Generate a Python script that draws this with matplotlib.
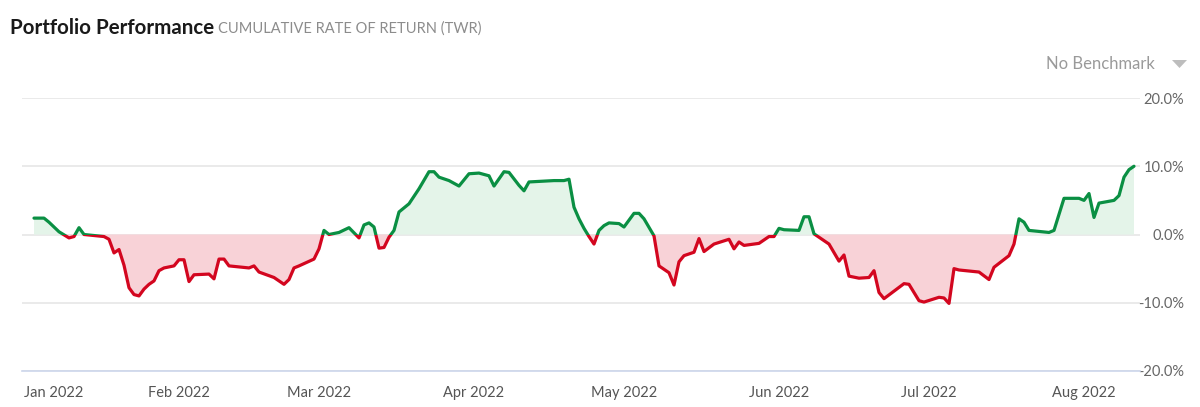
import pandas as pd
import numpy as np
import matplotlib
matplotlib.use("Agg")
import matplotlib.pyplot as plt
import matplotlib.dates as mdates
from matplotlib.patches import Rectangle, Polygon

# Cumulative rate of return (%)
dates = [
    "2022-01-03", "2022-01-05", "2022-01-06", "2022-01-08", "2022-01-10", "2022-01-11",
    "2022-01-12", "2022-01-13", "2022-01-17", "2022-01-18", "2022-01-19", "2022-01-20",
    "2022-01-21", "2022-01-22", "2022-01-23", "2022-01-24", "2022-01-25", "2022-01-26",
    "2022-01-27", "2022-01-28", "2022-01-29", "2022-01-31", "2022-02-01", "2022-02-02",
    "2022-02-03", "2022-02-04", "2022-02-07", "2022-02-08", "2022-02-09", "2022-02-10",
    "2022-02-11", "2022-02-15", "2022-02-16", "2022-02-17", "2022-02-20", "2022-02-22",
    "2022-02-23", "2022-02-24", "2022-02-25", "2022-02-28", "2022-03-01", "2022-03-02",
    "2022-03-03", "2022-03-05", "2022-03-07", "2022-03-09", "2022-03-10", "2022-03-11",
    "2022-03-12", "2022-03-13", "2022-03-14", "2022-03-15", "2022-03-16", "2022-03-17",
    "2022-03-19", "2022-03-21", "2022-03-23", "2022-03-24", "2022-03-25", "2022-03-27",
    "2022-03-29", "2022-03-31", "2022-04-02", "2022-04-04", "2022-04-05", "2022-04-07",
    "2022-04-08", "2022-04-10", "2022-04-11", "2022-04-12", "2022-04-17", "2022-04-19",
    "2022-04-20", "2022-04-21", "2022-04-22", "2022-04-23", "2022-04-24", "2022-04-25",
    "2022-04-26", "2022-04-27", "2022-04-28", "2022-04-30", "2022-05-01", "2022-05-03",
    "2022-05-04", "2022-05-05", "2022-05-07", "2022-05-08", "2022-05-10", "2022-05-11",
    "2022-05-12", "2022-05-13", "2022-05-15", "2022-05-16", "2022-05-17", "2022-05-19",
    "2022-05-22", "2022-05-23", "2022-05-24", "2022-05-25", "2022-05-28", "2022-05-30",
    "2022-05-31", "2022-06-01", "2022-06-02", "2022-06-05", "2022-06-06", "2022-06-07",
    "2022-06-08", "2022-06-11", "2022-06-13", "2022-06-14", "2022-06-15", "2022-06-17",
    "2022-06-19", "2022-06-20", "2022-06-21", "2022-06-22", "2022-06-24", "2022-06-26",
    "2022-06-27", "2022-06-29", "2022-06-30", "2022-07-03", "2022-07-04", "2022-07-05",
    "2022-07-06", "2022-07-07", "2022-07-11", "2022-07-13", "2022-07-14", "2022-07-17",
    "2022-07-18", "2022-07-19", "2022-07-20", "2022-07-21", "2022-07-25", "2022-07-26",
    "2022-07-28", "2022-07-31", "2022-08-01", "2022-08-02", "2022-08-03", "2022-08-04",
    "2022-08-07", "2022-08-08", "2022-08-09", "2022-08-10", "2022-08-11",
]
returns = [
    2.4, 2.4, 1.8, 0.4, -0.5, -0.3,
    1.0, 0.0, -0.3, -0.7, -2.7, -2.2,
    -4.5, -7.8, -8.8, -9.0, -8.0, -7.3,
    -6.8, -5.3, -4.9, -4.6, -3.7, -3.7,
    -6.9, -5.9, -5.8, -6.5, -3.6, -3.6,
    -4.6, -4.9, -4.6, -5.5, -6.3, -7.3,
    -6.6, -4.9, -4.6, -3.6, -2.1, 0.6,
    0.0, 0.3, 1.0, -0.5, 1.4, 1.7,
    1.1, -2.0, -1.9, -0.4, 0.6, 3.3,
    4.5, 6.7, 9.2, 9.2, 8.4, 7.9,
    7.1, 8.9, 9.0, 8.6, 7.1, 9.2,
    9.1, 7.2, 6.4, 7.7, 7.9, 7.9,
    8.1, 4.0, 2.3, 0.9, -0.3, -1.4,
    0.6, 1.3, 1.7, 1.6, 1.1, 3.1,
    3.1, 2.3, -0.2, -4.6, -5.6, -7.4,
    -4.0, -3.1, -2.6, -0.6, -2.5, -1.4,
    -0.7, -2.1, -1.1, -1.6, -1.3, -0.3,
    -0.3, 0.9, 0.7, 0.6, 2.6, 2.6,
    0.1, -1.4, -3.9, -3.0, -6.1, -6.4,
    -6.3, -5.3, -8.5, -9.4, -8.3, -7.2,
    -7.3, -9.7, -9.9, -9.2, -9.3, -10.1,
    -5.0, -5.2, -5.5, -6.6, -4.8, -3.1,
    -1.4, 2.3, 1.8, 0.6, 0.3, 0.6,
    5.3, 5.3, 5.0, 6.0, 2.5, 4.6,
    5.0, 5.7, 8.4, 9.5, 10.0,
]
y_ticks = [-20, -10, 0, 10, 20]
month_ticks = ["2022-01-01", "2022-02-01", "2022-03-01", "2022-04-01",
               "2022-05-01", "2022-06-01", "2022-07-01", "2022-08-01"]

GREEN = "#0a8f43"
RED = "#d3061f"
GREEN_FILL = "#e4f4e9"
RED_FILL = "#f8d2d7"

df = pd.DataFrame({"date": pd.to_datetime(dates), "ret": returns})
x = mdates.date2num(df["date"])
y = df["ret"].values

plt.rcParams["font.family"] = ["Lato", "DejaVu Sans"]

fig = plt.figure(figsize=(12, 4.07), dpi=100)
ax = fig.add_axes([22 / 1200, 1 - 371 / 407, (1140 - 22) / 1200, (371 - 98) / 407])

# light fills above / below zero
ax.fill_between(x, y, 0, where=y >= 0, interpolate=True, color=GREEN_FILL, lw=0, zorder=1)
ax.fill_between(x, y, 0, where=y <= 0, interpolate=True, color=RED_FILL, lw=0, zorder=1)

# same line twice, clipped to the positive / negative half
big = 1e6
pos = ax.plot(x, y, color=GREEN, lw=2.3, solid_joinstyle="round", solid_capstyle="round", zorder=3)[0]
neg = ax.plot(x, y, color=RED, lw=2.3, solid_joinstyle="round", solid_capstyle="round", zorder=3)[0]
clip_pos = Rectangle((-big, 0), 2 * big, big, transform=ax.transData)
clip_neg = Rectangle((-big, -big), 2 * big, big, transform=ax.transData)
pos.set_clip_path(clip_pos)
neg.set_clip_path(clip_neg)

ax.set_ylim(-20, 20)
ax.set_xlim(mdates.date2num(pd.Timestamp("2022-01-01")) - 0.4,
            mdates.date2num(pd.Timestamp("2022-08-12")) + 0.2)

ax.set_yticks(y_ticks)
ax.set_yticklabels([f"{v:.1f}%" for v in y_ticks])
ax.yaxis.tick_right()
ax.tick_params(axis="y", length=0, pad=32, labelsize=10.5, labelcolor="#666666")
for lab in ax.get_yticklabels():
    lab.set_horizontalalignment("right")
ax.grid(axis="y", color="#e6e6e6", lw=1.2, zorder=0)

ax.set_xticks(mdates.date2num(pd.to_datetime(month_ticks)))
ax.set_xticklabels([pd.Timestamp(m).strftime("%b %Y") for m in month_ticks])
ax.tick_params(axis="x", length=0, pad=11, labelsize=10.5, labelcolor="#555555")
# Jan label sits flush with the plot's left edge
ax.get_xticklabels()[0].set_horizontalalignment("left")

for s in ["top", "left", "right"]:
    ax.spines[s].set_visible(False)
ax.spines["bottom"].set_color("#ccd6eb")
ax.spines["bottom"].set_linewidth(1.2)
ax.set_axisbelow(True)

fig.text(10 / 1200, 1 - 33.5 / 407, "Portfolio Performance", fontsize=14.8,
         fontweight="bold", color="#1a1a1a", va="baseline", ha="left")
fig.text(218 / 1200, 1 - 33 / 407, "CUMULATIVE RATE OF RETURN (TWR)", fontsize=10.5,
         color="#8c8c8c", va="baseline", ha="left")
fig.text(1155 / 1200, 1 - 64 / 407, "No Benchmark", fontsize=12,
         color="#9a9a9a", va="center", ha="right")
tri = Polygon([[1172 / 1200, 1 - 60 / 407], [1187 / 1200, 1 - 60 / 407],
               [1179.5 / 1200, 1 - 68 / 407]], closed=True, transform=fig.transFigure,
              color="#bdbdbd", lw=0)
fig.patches.append(tri)

fig.savefig("out.png", dpi=100)
